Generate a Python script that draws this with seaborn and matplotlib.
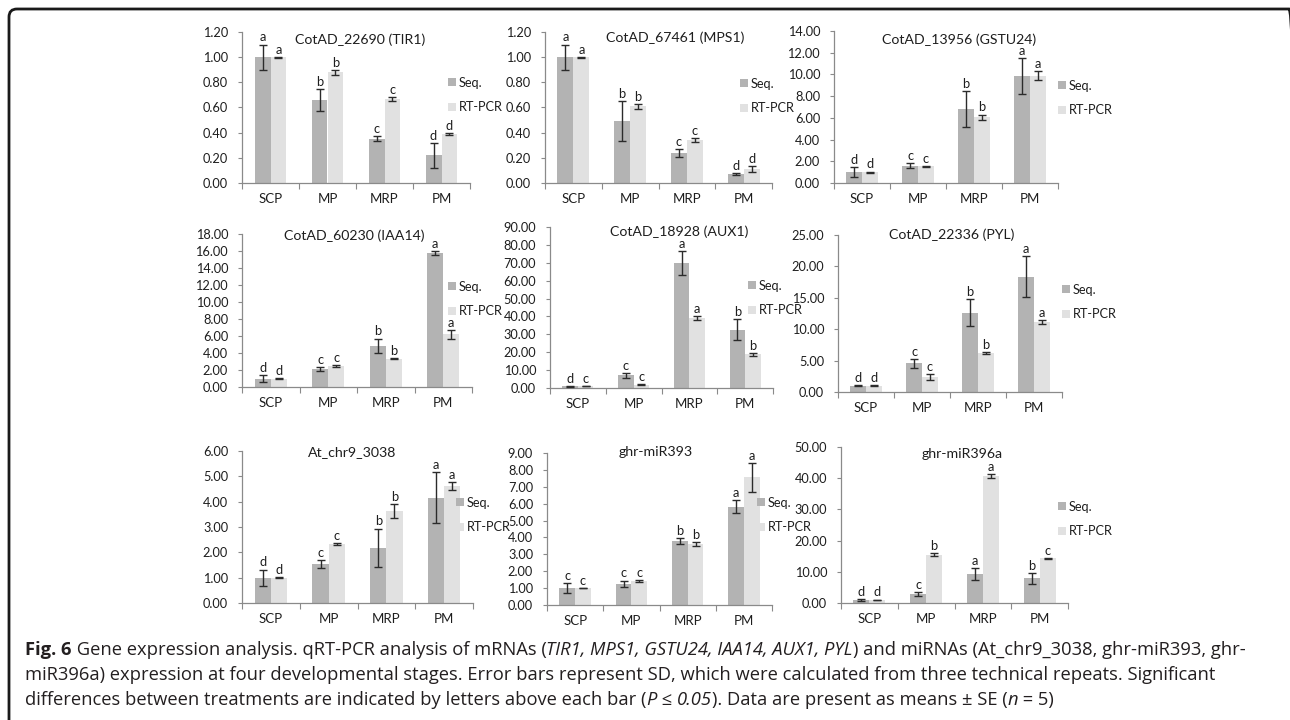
import numpy as np
import pandas as pd
import matplotlib
matplotlib.use("Agg")
import matplotlib.pyplot as plt
import seaborn as sns
from matplotlib.patches import Patch, FancyBboxPatch
from matplotlib.font_manager import FontProperties
from matplotlib.transforms import IdentityTransform

# ---------------- data ----------------
stages = ["SCP", "MP", "MRP", "PM"]
series_names = ["Seq.", "RT-PCR"]

titles = ["CotAD_22690 (TIR1)", "CotAD_67461 (MPS1)", "CotAD_13956 (GSTU24)",
          "CotAD_60230 (IAA14)", "CotAD_18928 (AUX1)", "CotAD_22336 (PYL)",
          "At_chr9_3038", "ghr-miR393", "ghr-miR396a"]

tir1_seq = [1.00, 0.66, 0.35, 0.22]
tir1_seq_sd = [0.10, 0.09, 0.02, 0.10]
tir1_rt = [1.00, 0.88, 0.67, 0.39]
tir1_rt_sd = [0.003, 0.02, 0.015, 0.01]
tir1_seq_letters = ["a", "b", "c", "d"]
tir1_rt_letters = ["a", "b", "c", "d"]

mps1_seq = [1.00, 0.49, 0.24, 0.07]
mps1_seq_sd = [0.10, 0.16, 0.03, 0.008]
mps1_rt = [1.00, 0.61, 0.34, 0.11]
mps1_rt_sd = [0.003, 0.02, 0.015, 0.025]
mps1_seq_letters = ["a", "b", "c", "d"]
mps1_rt_letters = ["a", "b", "c", "d"]

gstu24_seq = [1.00, 1.60, 6.80, 9.85]
gstu24_seq_sd = [0.45, 0.20, 1.65, 1.65]
gstu24_rt = [1.00, 1.55, 6.05, 9.90]
gstu24_rt_sd = [0.05, 0.05, 0.25, 0.40]
gstu24_seq_letters = ["d", "c", "b", "a"]
gstu24_rt_letters = ["d", "c", "b", "a"]

iaa14_seq = [1.00, 2.10, 4.85, 15.75]
iaa14_seq_sd = [0.40, 0.25, 0.85, 0.25]
iaa14_rt = [1.00, 2.45, 3.35, 6.20]
iaa14_rt_sd = [0.05, 0.15, 0.05, 0.50]
iaa14_seq_letters = ["d", "c", "b", "a"]
iaa14_rt_letters = ["d", "c", "b", "a"]

aux1_seq = [1.00, 7.10, 70.00, 32.60]
aux1_seq_sd = [0.25, 1.30, 6.60, 6.00]
aux1_rt = [1.00, 1.90, 39.00, 18.80]
aux1_rt_sd = [0.15, 0.20, 1.00, 0.80]
aux1_seq_letters = ["d", "c", "a", "b"]
aux1_rt_letters = ["c", "c", "a", "b"]

pyl_seq = [1.00, 4.60, 12.65, 18.35]
pyl_seq_sd = [0.10, 0.70, 2.20, 3.30]
pyl_rt = [1.00, 2.40, 6.20, 11.20]
pyl_rt_sd = [0.05, 0.45, 0.15, 0.30]
pyl_seq_letters = ["d", "c", "b", "a"]
pyl_rt_letters = ["d", "c", "b", "a"]

chr9_seq = [1.00, 1.53, 2.19, 4.16]
chr9_seq_sd = [0.32, 0.16, 0.75, 1.02]
chr9_rt = [1.00, 2.33, 3.63, 4.61]
chr9_rt_sd = [0.02, 0.03, 0.26, 0.15]
chr9_seq_letters = ["d", "c", "b", "a"]
chr9_rt_letters = ["d", "c", "b", "a"]

mir393_seq = [1.00, 1.25, 3.81, 5.83]
mir393_seq_sd = [0.30, 0.20, 0.18, 0.40]
mir393_rt = [1.00, 1.42, 3.62, 7.55]
mir393_rt_sd = [0.02, 0.05, 0.10, 0.86]
mir393_seq_letters = ["c", "c", "b", "a"]
mir393_rt_letters = ["c", "c", "b", "a"]

mir396_seq = [1.00, 2.90, 9.40, 7.90]
mir396_seq_sd = [0.20, 0.60, 1.90, 1.70]
mir396_rt = [1.00, 15.50, 40.60, 14.30]
mir396_rt_sd = [0.10, 0.40, 0.60, 0.20]
mir396_seq_letters = ["d", "c", "a", "b"]
mir396_rt_letters = ["d", "b", "a", "c"]

# ---------------- style ----------------
sns.set_theme(style="white")
plt.rcParams["font.family"] = ["Lato", "DejaVu Sans"]
SEQ_COLOR = "#b3b3b3"
RT_COLOR = "#e1e1e1"
AX_COLOR = "#8a8a8a"
TXT = "#1e1e1e"

W, H = 1290, 720
fig = plt.figure(figsize=(W / 100, H / 100), dpi=100)
fig.patch.set_facecolor("white")

panels = [
    (tir1_seq, tir1_seq_sd, tir1_rt, tir1_rt_sd, tir1_seq_letters, tir1_rt_letters),
    (mps1_seq, mps1_seq_sd, mps1_rt, mps1_rt_sd, mps1_seq_letters, mps1_rt_letters),
    (gstu24_seq, gstu24_seq_sd, gstu24_rt, gstu24_rt_sd, gstu24_seq_letters, gstu24_rt_letters),
    (iaa14_seq, iaa14_seq_sd, iaa14_rt, iaa14_rt_sd, iaa14_seq_letters, iaa14_rt_letters),
    (aux1_seq, aux1_seq_sd, aux1_rt, aux1_rt_sd, aux1_seq_letters, aux1_rt_letters),
    (pyl_seq, pyl_seq_sd, pyl_rt, pyl_rt_sd, pyl_seq_letters, pyl_rt_letters),
    (chr9_seq, chr9_seq_sd, chr9_rt, chr9_rt_sd, chr9_seq_letters, chr9_rt_letters),
    (mir393_seq, mir393_seq_sd, mir393_rt, mir393_rt_sd, mir393_seq_letters, mir393_rt_letters),
    (mir396_seq, mir396_seq_sd, mir396_rt, mir396_rt_sd, mir396_seq_letters, mir396_rt_letters),
]

# axis ranges (max, step)
yaxes = [(1.2, 0.2), (1.2, 0.2), (14, 2), (18, 2), (90, 10), (25, 5), (6, 1), (9, 1), (50, 10)]

# layout in pixels: axes box (x0, y0, x1, y1), title centre, legend (square left x, mid y)
boxes = [(242, 32, 470, 183), (545, 32, 772, 183), (834, 31, 1058, 183),
         (242, 234, 472, 387), (550, 227, 773, 388), (838, 235, 1062, 392),
         (242, 451, 473, 603), (547, 453, 772, 605), (841, 447, 1068, 603)]
title_pos = [(360, 40), (675, 38), (959, 40),
             (354, 236), (679, 232), (952, 235),
             (352, 452), (656, 452), (962, 454)]
legend_pos = [(448, 95), (740, 96), (1058, 98),
              (448, 299), (748, 298), (1062, 302),
              (456, 515), (757, 515), (1058, 519)]

for i, (seq, seq_sd, rt, rt_sd, seq_let, rt_let) in enumerate(panels):
    x0, y0, x1, y1 = boxes[i]
    ax = fig.add_axes([x0 / W, 1 - y1 / H, (x1 - x0) / W, (y1 - y0) / H])
    df = pd.DataFrame({
        "Stage": stages * 2,
        "Series": [series_names[0]] * 4 + [series_names[1]] * 4,
        "Value": list(seq) + list(rt),
    })
    sns.barplot(data=df, x="Stage", y="Value", hue="Series", order=stages,
                hue_order=series_names, palette=[SEQ_COLOR, RT_COLOR],
                width=0.56, errorbar=None, saturation=1, linewidth=0,
                legend=False, ax=ax)
    for cont, vals, sds, lets in zip(ax.containers[:2], [seq, rt], [seq_sd, rt_sd], [seq_let, rt_let]):
        xs = [p.get_x() + p.get_width() / 2 for p in cont.patches]
        ax.errorbar(xs, vals, yerr=sds, fmt="none", ecolor="#2b2b2b",
                    elinewidth=1.0, capsize=2.6, capthick=1.0, zorder=3)
        for xx, v, s, l in zip(xs, vals, sds, lets):
            ax.annotate(l, (xx, v + s), xytext=(0, 0.8), textcoords="offset points",
                        ha="center", va="bottom", fontsize=9.3, color=TXT)
    ymax, step = yaxes[i]
    ax.set_ylim(0, ymax)
    ax.set_yticks(np.arange(0, ymax + step / 2, step))
    ax.yaxis.set_major_formatter(matplotlib.ticker.FormatStrFormatter("%.2f"))
    ax.set_xlim(-0.5, 3.5)
    ax.set_xticks(range(4))
    ax.set_xticks(np.arange(-0.5, 4.0, 1.0), minor=True)
    ax.set_xticklabels(stages)
    ax.set_xlabel("")
    ax.set_ylabel("")
    for s in ["top", "right"]:
        ax.spines[s].set_visible(False)
    for s in ["left", "bottom"]:
        ax.spines[s].set_color(AX_COLOR)
        ax.spines[s].set_linewidth(0.9)
    ax.tick_params(axis="y", which="major", length=3, width=0.8, color=AX_COLOR,
                   labelsize=9.2, labelcolor=TXT, pad=7, direction="out", left=True)
    ax.tick_params(axis="x", which="major", length=0, labelsize=9.5, labelcolor=TXT, pad=7)
    ax.tick_params(axis="x", which="minor", length=4, width=0.8, color=AX_COLOR,
                   direction="out", bottom=True)
    ax.patch.set_alpha(0)

    tx, ty = title_pos[i]
    fig.text(tx / W, 1 - ty / H, titles[i], ha="center", va="center",
             fontsize=10.2, color=TXT)

    lx, ly = legend_pos[i]
    handles = [Patch(facecolor=SEQ_COLOR, edgecolor="none"),
               Patch(facecolor=RT_COLOR, edgecolor="none")]
    leg = ax.legend(handles, series_names, loc="center left",
                    bbox_to_anchor=((lx - x0) / (x1 - x0), (y1 - ly) / (y1 - y0)),
                    frameon=False, fontsize=9.2, handlelength=0.62, handleheight=0.62,
                    handletextpad=0.25, labelspacing=1.0, borderpad=0, borderaxespad=0)
    for t in leg.get_texts():
        t.set_color(TXT)

# ---------------- caption ----------------
CAP_FAM = ["Open Sans", "DejaVu Sans"]
CAP_COLOR = "#231f20"
cap_lines = [
    [("Fig. 6", "bold", "normal"),
     (" Gene expression analysis. qRT-PCR analysis of mRNAs (", "normal", "normal"),
     ("TIR1, MPS1, GSTU24, IAA14, AUX1, PYL", "normal", "italic"),
     (") and miRNAs (At_chr9_3038, ghr-miR393, ghr-", "normal", "normal")],
    [("miR396a) expression at four developmental stages. Error bars represent SD, which were "
      "calculated from three technical repeats. Significant", "normal", "normal")],
    [("differences between treatments are indicated by letters above each bar (", "normal", "normal"),
     ("P", "normal", "italic"), (" \u2264 ", "normal", "normal"), ("0.05", "normal", "italic"),
     ("). Data are present as means \u00b1 SE (", "normal", "normal"),
     ("n", "normal", "italic"), (" = 5)", "normal", "normal")],
]
renderer = fig.canvas.get_renderer()


def run_width(text, weight, style, size):
    prop = FontProperties(family=CAP_FAM, weight=weight, style=style, size=size)
    w1, _, _ = renderer.get_text_width_height_descent("|" + text + "|", prop, ismath=False)
    w0, _, _ = renderer.get_text_width_height_descent("||", prop, ismath=False)
    return w1 - w0


base = 12.0
w_line1 = sum(run_width(t, wt, st, base) for t, wt, st in cap_lines[0])
cap_size = base * (1215.0 / w_line1)
baselines = [655, 680, 705]
for line, by in zip(cap_lines, baselines):
    x = 25.0
    for t, wt, st in line:
        fig.text(x / W, 1 - by / H, t, ha="left", va="baseline", fontsize=cap_size,
                 family=CAP_FAM, fontweight=wt, fontstyle=st, color=CAP_COLOR)
        x += run_width(t, wt, st, cap_size)

# ---------------- frame (pixel coordinates, origin bottom-left) ----------------
frame = FancyBboxPatch((9, -30), 1297 - 9, (H - 9) + 30,
                       boxstyle="round,pad=0,rounding_size=8",
                       transform=IdentityTransform(), fill=False, edgecolor="#1a1a1a",
                       linewidth=2.0, clip_on=False)
fig.patches.append(frame)

fig.savefig("out.png", dpi=100, facecolor="white")
